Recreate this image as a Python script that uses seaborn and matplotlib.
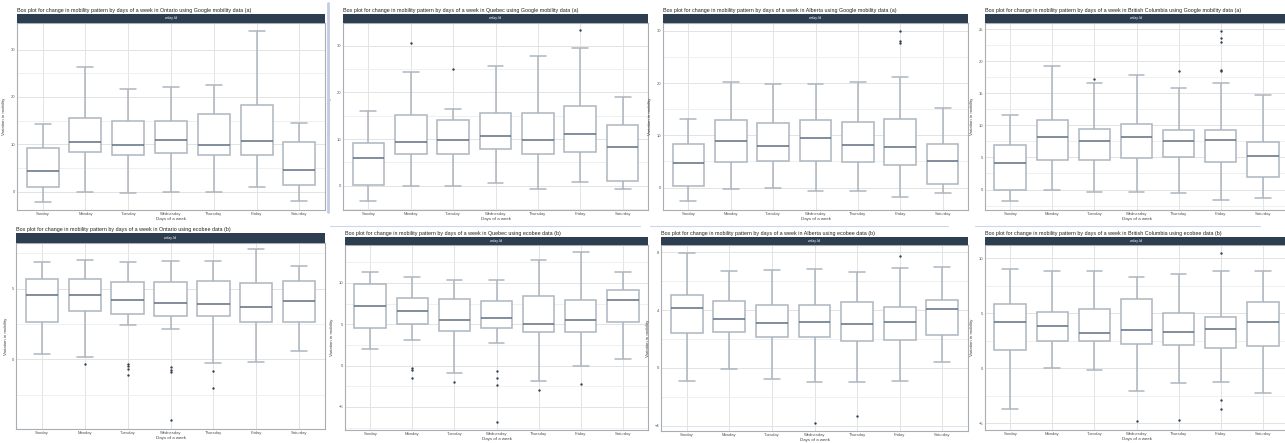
"""
Box plots of weekly mobility variation: Google (a) vs ecobee (b) for four provinces.
"""

import matplotlib
matplotlib.use("Agg")
import matplotlib.pyplot as plt
from matplotlib.lines import Line2D
from matplotlib.patches import Rectangle
import pandas as pd
import seaborn as sns

DAYS = ["Sunday", "Monday", "Tuesday", "Wednesday", "Thursday", "Friday", "Saturday"]

# per day: [low whisker, Q1, median, Q3, high whisker]
ontario_google = [
    [-2.2, 0.9, 4.4, 9.1, 14.2],
    [0.0, 8.3, 10.5, 15.6, 26.4],
    [-0.3, 7.8, 9.9, 15.0, 21.6],
    [0.0, 8.2, 10.9, 14.8, 22.0],
    [-0.2, 7.7, 9.9, 16.3, 22.5],
    [0.9, 7.7, 10.6, 18.2, 34.0],
    [-2.0, 1.4, 4.6, 10.4, 14.4],
]
ontario_google_out = []

quebec_google = [
    [-3.3, 0.2, 6.0, 9.2, 16.0],
    [0.0, 6.9, 9.4, 15.1, 24.4],
    [0.0, 6.9, 9.8, 14.1, 16.4],
    [0.6, 7.9, 10.6, 15.5, 25.7],
    [-0.6, 6.8, 9.8, 15.5, 27.8],
    [0.7, 7.3, 11.2, 17.2, 29.6],
    [-0.6, 1.1, 8.4, 13.0, 19.1],
]
quebec_google_out = [("Monday", 30.6), ("Tuesday", 25.0), ("Friday", 33.3)]

alberta_google = [
    [-2.5, 0.3, 4.7, 8.3, 13.2],
    [-0.2, 4.8, 9.0, 12.9, 20.3],
    [0.0, 5.0, 8.0, 12.4, 19.9],
    [-0.6, 5.0, 9.5, 12.9, 19.8],
    [-0.6, 4.8, 8.2, 12.6, 20.3],
    [-1.8, 4.4, 7.8, 13.1, 21.2],
    [-1.1, 0.6, 5.0, 8.3, 15.3],
]
alberta_google_out = [("Friday", 30.0), ("Friday", 28.0), ("Friday", 27.7)]

bc_google = [
    [-1.8, 0.0, 4.2, 7.0, 11.7],
    [0.0, 4.6, 8.2, 10.8, 19.3],
    [-0.4, 4.6, 7.5, 9.5, 16.6],
    [-0.4, 4.9, 8.2, 10.2, 17.9],
    [-0.6, 5.1, 7.5, 9.3, 15.8],
    [-1.6, 4.3, 7.7, 9.3, 16.6],
    [-1.3, 1.9, 5.3, 7.4, 14.8],
]
bc_google_out = [("Tuesday", 17.2), ("Thursday", 18.5), ("Friday", 24.8),
                 ("Friday", 23.6), ("Friday", 23.0), ("Friday", 18.6), ("Friday", 18.5)]

ontario_ecobee = [
    [0.38, 2.62, 4.58, 5.71, 6.86],
    [0.17, 3.44, 4.58, 5.71, 7.00],
    [2.43, 3.21, 4.20, 5.47, 6.89],
    [2.15, 3.09, 4.01, 5.47, 6.98],
    [-0.26, 3.04, 3.94, 5.52, 6.93],
    [-0.19, 2.62, 3.70, 5.40, 7.81],
    [0.59, 2.67, 4.13, 5.57, 6.58],
]
ontario_ecobee_out = [("Monday", -0.35), ("Tuesday", -0.31), ("Tuesday", -0.50),
                      ("Tuesday", -0.66), ("Tuesday", -1.11), ("Wednesday", -0.54),
                      ("Wednesday", -0.73), ("Wednesday", -0.90), ("Wednesday", -4.29),
                      ("Thursday", -0.85), ("Thursday", -2.00)]

quebec_ecobee = [
    [2.01, 4.58, 7.23, 9.84, 11.29],
    [3.05, 5.02, 6.59, 8.23, 10.72],
    [-0.92, 4.18, 5.54, 8.07, 10.36],
    [2.73, 4.58, 5.74, 7.75, 10.36],
    [-1.81, 4.10, 4.98, 8.39, 12.77],
    [0.00, 4.10, 5.46, 7.95, 13.69],
    [0.80, 5.22, 7.87, 9.16, 11.37],
]
quebec_ecobee_out = [("Monday", -0.32), ("Monday", -0.48), ("Monday", -1.53),
                     ("Tuesday", -2.01), ("Wednesday", -0.68), ("Wednesday", -1.53),
                     ("Wednesday", -2.37), ("Wednesday", -6.83), ("Thursday", -2.97),
                     ("Friday", -2.25)]

alberta_ecobee = [
    [-0.91, 2.39, 4.17, 5.01, 7.93],
    [-0.07, 2.48, 3.37, 4.65, 6.72],
    [-0.77, 2.12, 3.08, 4.37, 6.79],
    [-0.98, 2.12, 3.14, 4.35, 6.83],
    [-0.98, 1.85, 3.01, 4.58, 6.63],
    [-0.91, 1.94, 3.19, 4.24, 6.90],
    [0.41, 2.26, 4.10, 4.67, 6.95],
]
alberta_ecobee_out = [("Wednesday", -3.80), ("Thursday", -3.35), ("Friday", 7.77)]

bc_ecobee = [
    [-3.66, 1.62, 4.23, 5.80, 9.04],
    [0.03, 2.46, 3.84, 5.14, 8.80],
    [-0.12, 2.46, 3.24, 5.35, 8.86],
    [-2.04, 2.25, 3.45, 6.31, 8.29],
    [-1.35, 2.16, 3.33, 5.02, 8.59],
    [-1.23, 1.89, 3.54, 4.68, 8.80],
    [-2.28, 2.07, 4.17, 6.04, 8.86],
]
bc_ecobee_out = [("Wednesday", -4.80), ("Thursday", -4.68), ("Friday", 10.51),
                 ("Friday", -2.85), ("Friday", -3.66)]

TITLE = "Box plot for change in mobility pattern by days of a week in {} using {} data ({})"

W, H = 1285, 443
STRIP = "#2c3e50"
EDGE = "#adb5bf"
MEDIAN = "#5f6f80"
POINT = "#2c3e50"

# (left, top, right, bottom) of each plot area in pixels, strip top, y range, ticks
PANELS = [
    ("Ontario", "Google mobility", "a", ontario_google, ontario_google_out,
     (17, 23, 325, 210), 14, (-3.9, 35.6), [0, 10, 20, 30], [5, 15, 25]),
    ("Quebec", "Google mobility", "a", quebec_google, quebec_google_out,
     (343, 23, 648, 210), 14, (-5.2, 34.9), [0, 10, 20, 30], [-5, 5, 15, 25]),
    ("Alberta", "Google mobility", "a", alberta_google, alberta_google_out,
     (663, 23, 968, 210), 14, (-4.3, 31.5), [0, 10, 20, 30], [5, 15, 25]),
    ("British Columbia", "Google mobility", "a", bc_google, bc_google_out,
     (985, 23, 1288, 210), 14, (-3.2, 26.0), [0, 5, 10, 15, 20, 25],
     [-2.5, 2.5, 7.5, 12.5, 17.5, 22.5]),
    ("Ontario", "ecobee", "b", ontario_ecobee, ontario_ecobee_out,
     (16, 243, 325, 429), 233, (-4.93, 8.23), [0, 5], [-2.5, 2.5, 7.5]),
    ("Quebec", "ecobee", "b", quebec_ecobee, quebec_ecobee_out,
     (345, 245, 648, 430), 237, (-7.79, 14.58), [-5, 0, 5, 10], [-7.5, -2.5, 2.5, 7.5, 12.5]),
    ("Alberta", "ecobee", "b", alberta_ecobee, alberta_ecobee_out,
     (661, 245, 968, 431), 237, (-4.37, 8.5), [-4, 0, 4, 8], [-2, 2, 6]),
    ("British Columbia", "ecobee", "b", bc_ecobee, bc_ecobee_out,
     (985, 245, 1288, 430), 237, (-5.6, 11.2), [-5, 0, 5, 10], [-2.5, 2.5, 7.5]),
]


def summary_frame(stats):
    rows = []
    for day, five in zip(DAYS, stats):
        for v in five:
            rows.append({"day": day, "value": v})
    return pd.DataFrame(rows)


def draw_panel(fig, province, source, tag, stats, outliers, rect, strip_top, ylim, major, minor):
    l, t, r, b = rect
    ax = fig.add_axes([l / W, 1 - b / H, (r - l) / W, (b - t) / H])

    sns.boxplot(data=summary_frame(stats), x="day", y="value", order=DAYS,
                whis=(0, 100), width=0.75, color="white", linecolor=EDGE,
                linewidth=1.1, showfliers=False,
                medianprops={"color": MEDIAN, "linewidth": 1.1}, ax=ax)
    if outliers:
        out = pd.DataFrame(outliers, columns=["day", "value"])
        sns.stripplot(data=out, x="day", y="value", order=DAYS, jitter=False,
                      color=POINT, size=1.7, ax=ax)

    ax.set_xlim(-0.6, 6.6)
    ax.set_ylim(*ylim)
    ax.set_yticks(major)
    ax.set_yticks(minor, minor=True)
    ax.grid(which="major", color="#e3e3e3", linewidth=0.7)
    ax.grid(which="minor", axis="y", color="#eeeeee", linewidth=0.6)
    ax.set_axisbelow(True)
    ax.tick_params(which="both", length=0, labelsize=3, pad=1.5, colors="#555555")
    ax.set_xlabel("Days of a week", fontsize=3.2, labelpad=0.5, color="#444444")
    ax.set_ylabel("Variation in mobility", fontsize=3.2, labelpad=3, color="#444444")
    for sp in ax.spines.values():
        sp.set_visible(True)
        sp.set_color("#a7aeb6")
        sp.set_linewidth(0.8)

    # facet strip
    fig.add_artist(Rectangle((l / W, 1 - t / H), (r - l) / W, (t - strip_top) / H,
                             transform=fig.transFigure, facecolor=STRIP,
                             edgecolor="none"))
    fig.text((l + r) / 2 / W, 1 - (t + strip_top) / 2 / H, "wday.lbl",
             color="white", fontsize=2.4, ha="center", va="center")
    fig.text(l / W, 1 - (strip_top - 1) / H, TITLE.format(province, source, tag),
             fontsize=3.9, ha="left", va="bottom", color="#222222")


def main():
    sns.set_theme(style="whitegrid")
    plt.rcParams["font.family"] = ["Liberation Sans", "DejaVu Sans"]

    fig = plt.figure(figsize=(W / 100, H / 100), dpi=100)
    fig.patch.set_facecolor("white")

    for p in PANELS:
        draw_panel(fig, *p)

    # seams between the stitched screenshots
    fig.add_artist(Line2D([328 / W, 328 / W], [1 - 3 / H, 1 - 212 / H],
                          transform=fig.transFigure, color="#c3cbe6", linewidth=2))
    for x0, x1 in [(330, 640), (650, 948), (975, 1260)]:
        fig.add_artist(Line2D([x0 / W, x1 / W], [1 - 226 / H, 1 - 226 / H],
                              transform=fig.transFigure, color="#cdd5f0", linewidth=0.8))

    fig.savefig("out.png", dpi=100)
    plt.close(fig)


if __name__ == "__main__":
    main()
